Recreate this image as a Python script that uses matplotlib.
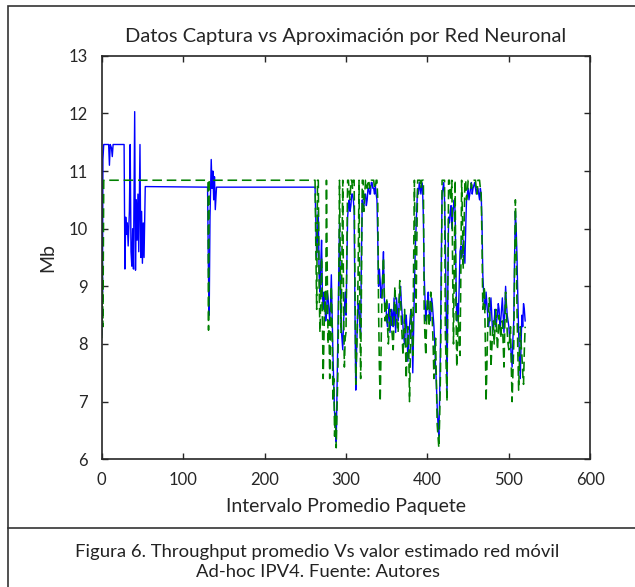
import numpy as np
import matplotlib.pyplot as plt
from matplotlib.patches import Rectangle
from matplotlib.lines import Line2D

# Chart data

title = "Datos Captura vs Aproximación por Red Neuronal"
caption = ("Figura 6. Throughput promedio Vs valor estimado red móvil\n"
           "Ad-hoc IPV4. Fuente: Autores")

# captured throughput, first part (sparse vertices)
blue_x_head = [0, 0.5, 1, 1.5, 2.5, 8.5, 9.5, 10.5, 12, 13, 14, 27.5, 28.5,
               29.5, 30.5, 31.5, 32.5, 34, 35, 36, 37, 38, 39, 40.5, 41.5,
               42.5, 43.5, 44.5, 45.5, 47, 48, 49, 50, 51, 52, 53.5, 130,
               131, 132, 133, 134.5, 135.5, 136.5, 137.5, 138.5, 139.5, 141]
blue_y_head = [8.16, 9.7, 8.9, 11.2, 11.46, 11.46, 11.1, 11.46, 11.4, 11.25,
               11.46, 11.46, 9.3, 10.2, 9.9, 10.1, 9.7, 10.3, 11.46, 9.6,
               9.35, 10.0, 9.3, 12.03, 9.28, 10.5, 9.8, 10.6, 9.6, 11.46, 9.5,
               10.3, 9.4, 10.1, 9.5, 10.73, 10.72, 9.3, 8.5, 10.2, 11.2, 10.7,
               11.0, 10.5, 10.9, 10.33, 10.72]

# neural network estimate, first part
green_x_head = [0, 0.7, 1.5, 2.5, 130.5, 131.2, 132]
green_y_head = [8.1, 9.5, 8.3, 10.84, 10.84, 8.24, 10.84]

# second part, one value per packet from 262 to 520
tail_x = np.arange(262, 521)
blue_y_tail = [
    10.72, 10.1, 9.5, 9.9, 10.3, 9.2, 8.9, 9.4, 9.8, 8.9,
    8.6, 8.9, 8.7, 8.4, 8.5, 8.9, 8.8, 8.6, 8.4, 8.7,
    9.2, 8.5, 7.8, 7.3, 6.8, 6.6, 6.3, 7.2, 8.0, 9.1,
    10.1, 9.0, 8.3, 8.1, 7.9, 8.4, 8.6, 8.9, 8.5, 9.4,
    10.2, 10.4, 10.5, 10.3, 10.4, 10.6, 10.6, 10.5, 10.3, 8.6,
    7.2, 7.9, 8.4, 8.7, 8.6, 8.3, 8.2, 9.6, 10.5, 10.3,
    10.4, 10.6, 10.6, 10.4, 10.5, 10.7, 10.7, 10.6, 10.6, 10.8,
    10.8, 10.7, 10.7, 10.6, 10.75, 10.6, 10.5, 9.8, 9.0, 9.3,
    9.1, 8.8, 8.9, 9.2, 9.6, 8.8, 8.6, 8.7, 8.4, 8.3,
    8.5, 8.7, 8.2, 8.4, 8.6, 8.5, 8.3, 8.8, 8.5, 8.2,
    8.8, 8.6, 8.4, 8.6, 8.9, 9.0, 8.7, 8.5, 8.3, 8.1,
    8.0, 8.3, 8.5, 8.2, 7.7, 8.0, 8.3, 8.5, 8.6, 8.2,
    7.5, 8.2, 9.0, 9.6, 10.0, 10.4, 10.7, 10.6, 10.8, 10.7,
    10.6, 10.8, 10.7, 10.2, 9.2, 8.8, 8.4, 8.6, 8.7, 8.9,
    8.6, 8.4, 8.5, 8.8, 8.7, 8.5, 8.3, 8.0, 7.6, 7.3,
    6.9, 6.6, 6.4, 7.1, 8.0, 9.4, 10.6, 10.7, 10.8, 10.5,
    9.8, 8.6, 7.1, 8.9, 10.2, 10.1, 10.3, 10.4, 10.0, 10.2,
    10.4, 10.5, 10.3, 9.2, 8.4, 8.7, 8.5, 9.0, 9.6, 9.7,
    9.5, 9.6, 9.8, 9.6, 9.4, 10.0, 10.5, 10.6, 10.7, 10.5,
    10.6, 10.7, 10.8, 10.6, 10.7, 10.75, 10.8, 10.7, 10.6, 10.7,
    10.7, 10.6, 10.5, 10.7, 10.6, 10.1, 9.2, 8.9, 8.7, 8.6,
    8.9, 8.7, 8.5, 8.3, 8.4, 8.6, 8.8, 8.5, 8.2, 8.3,
    8.4, 8.6, 8.3, 8.4, 8.5, 8.7, 8.6, 8.3, 8.4, 8.6,
    8.8, 8.5, 8.2, 8.6, 9.0, 8.7, 8.5, 8.4, 8.3, 8.1,
    8.0, 7.8, 7.6, 8.1, 8.4, 9.5, 10.3, 10.0, 9.5, 8.8,
    8.2, 7.8, 7.4, 8.0, 8.5, 8.3, 8.7, 8.6, 8.4,
]
green_y_tail = [
    10.84, 9.6, 8.6, 10.84, 10.84, 9.0, 8.2, 8.8, 9.5, 8.4,
    7.4, 8.2, 8.9, 8.5, 10.84, 9.2, 8.0, 8.4, 7.4, 8.1,
    9.0, 8.3, 7.0, 7.4, 6.4, 6.8, 6.2, 6.9, 7.5, 8.8,
    10.84, 9.4, 8.2, 9.6, 10.84, 8.7, 7.6, 8.1, 8.2, 9.5,
    10.84, 10.84, 10.6, 10.5, 10.84, 10.84, 10.7, 10.84, 10.84, 9.0,
    7.3, 7.8, 8.3, 9.4, 10.84, 8.6, 7.4, 9.0, 10.84, 10.84,
    10.3, 10.6, 10.84, 10.84, 10.7, 10.84, 10.84, 10.7, 10.8, 10.84,
    10.84, 10.84, 10.84, 10.7, 10.7, 10.84, 10.84, 10.5, 8.6, 7.6,
    7.0, 7.8, 8.7, 9.1, 9.5, 8.9, 8.4, 8.5, 8.8, 8.3,
    8.0, 8.3, 8.6, 8.5, 8.3, 8.1, 7.9, 8.4, 9.0, 8.7,
    8.5, 8.3, 8.2, 8.7, 9.1, 8.8, 8.4, 8.1, 7.8, 8.2,
    8.6, 8.0, 7.4, 7.9, 8.3, 8.0, 7.0, 7.8, 8.6, 8.4,
    7.8, 9.4, 10.84, 9.6, 8.5, 9.8, 10.84, 10.84, 10.84, 10.84,
    10.7, 10.84, 10.84, 10.84, 8.6, 8.1, 7.8, 8.4, 8.8, 8.6,
    8.3, 8.6, 8.9, 8.7, 8.4, 8.0, 7.4, 7.8, 8.1, 7.3,
    6.6, 6.4, 6.2, 6.7, 7.5, 9.0, 10.84, 10.84, 10.84, 10.84,
    8.2, 7.6, 7.0, 8.8, 10.84, 10.84, 10.6, 10.5, 10.84, 9.2,
    8.0, 9.4, 10.84, 8.7, 7.6, 8.1, 8.5, 8.0, 7.8, 9.2,
    10.84, 10.2, 9.3, 10.0, 10.84, 10.84, 10.5, 10.6, 10.84, 10.84,
    10.84, 10.84, 10.7, 10.8, 10.84, 10.84, 10.84, 10.84, 10.7, 10.6,
    10.84, 10.84, 10.84, 10.7, 10.6, 9.8, 8.6, 8.8, 9.0, 8.1,
    7.0, 7.6, 8.3, 8.6, 8.8, 8.3, 7.6, 7.9, 8.2, 8.4,
    8.0, 8.3, 8.6, 8.2, 7.9, 8.2, 8.5, 8.3, 8.1, 8.3,
    8.4, 8.0, 7.6, 8.3, 8.9, 8.6, 8.2, 8.0, 7.9, 8.1,
    8.3, 7.6, 7.0, 7.5, 8.0, 9.2, 10.5, 9.8, 8.6, 7.9,
    7.2, 7.7, 8.3, 8.0, 7.8, 7.5, 7.3, 7.9, 8.3,
]

x_ticks = [0, 100, 200, 300, 400, 500, 600]
y_ticks = [6, 7, 8, 9, 10, 11, 12, 13]

blue_x = np.concatenate([blue_x_head, tail_x])
blue_y = np.concatenate([blue_y_head, blue_y_tail])
green_x = np.concatenate([green_x_head, tail_x])
green_y = np.concatenate([green_y_head, green_y_tail])

# Figure

plt.rcParams["font.family"] = ["Lato", "DejaVu Sans"]
ink = "#262626"

W, H = 635, 587
fig = plt.figure(figsize=(W / 100, H / 100), dpi=100)
ax = fig.add_axes([101.7 / W, 1 - 459.3 / H, (590.3 - 101.7) / W, (459.3 - 55.7) / H])

ax.plot(blue_x, blue_y, color="#0000ff", lw=1.0)
ax.plot(green_x, green_y, color="#008000", lw=1.15, ls=(0, (6, 3)))

ax.set_xlim(0, 600)
ax.set_ylim(6, 13)
ax.set_xticks(x_ticks)
ax.set_yticks(y_ticks)
ax.tick_params(direction="in", top=True, right=True, length=4, width=1,
               labelsize=12, colors=ink)
ax.tick_params(axis="x", pad=9)
ax.tick_params(axis="y", pad=10)
for sp in ax.spines.values():
    sp.set_linewidth(1.2)
    sp.set_color(ink)

ax.set_title(title, fontsize=14.5, color=ink, pad=10)
ax.set_xlabel("Intervalo Promedio Paquete", fontsize=14, color=ink, labelpad=7)
ax.set_ylabel("Mb", fontsize=14, color=ink, labelpad=9)

# page frame around figure and caption
fig.patches.append(Rectangle((8 / W, -0.02), 1.0, 1 - 6 / H + 0.02,
                             transform=fig.transFigure, fill=False,
                             lw=1.2, ec="#333333"))
fig.lines.append(Line2D([8 / W, 1.0], [1 - 528.3 / H] * 2,
                        transform=fig.transFigure, lw=1.2, color="#333333"))
fig.text(0.5, 1 - 562 / H, caption, ha="center", va="center",
         fontsize=13.3, color="#222222", linespacing=1.32)

fig.savefig("out.png", dpi=100)
